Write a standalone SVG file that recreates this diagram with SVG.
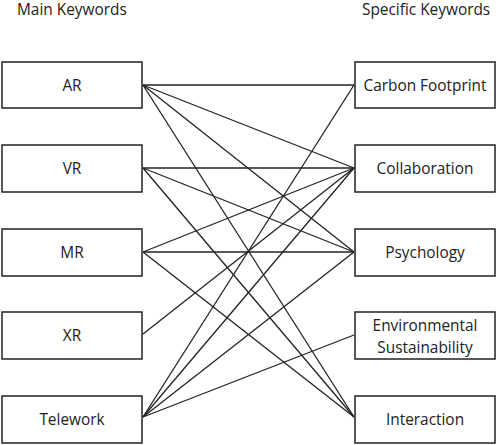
<svg xmlns="http://www.w3.org/2000/svg" width="498" height="445" viewBox="0 0 498 445">
<style>
.box{fill:#fff;stroke:#222;stroke-width:1.5}
.t{font-family:"Open Sans","Noto Sans","Liberation Sans",sans-serif;font-size:15.4px;fill:#222;text-anchor:middle}
.h{font-family:"Open Sans","Noto Sans","Liberation Sans",sans-serif;font-size:15.4px;fill:#222}
.c line{stroke:#222;stroke-width:1.3;fill:none}
</style>
<rect width="498" height="445" fill="#fff"/>
<text class="h" x="17" y="15">Main Keywords</text>
<text class="h" x="362" y="15">Specific Keywords</text>
<g id="connectors" class="c">
<line x1="143" y1="85" x2="354" y2="85"/>
<line x1="143" y1="85" x2="354" y2="168"/>
<line x1="143" y1="85" x2="354" y2="252"/>
<line x1="143" y1="85" x2="354" y2="417"/>
<line x1="143" y1="168" x2="354" y2="168"/>
<line x1="143" y1="168" x2="354" y2="252"/>
<line x1="143" y1="168" x2="354" y2="417"/>
<line x1="143" y1="252" x2="354" y2="168"/>
<line x1="143" y1="252" x2="354" y2="252"/>
<line x1="143" y1="252" x2="354" y2="417"/>
<line x1="143" y1="334" x2="354" y2="168"/>
<line x1="143" y1="417" x2="354" y2="85"/>
<line x1="143" y1="417" x2="354" y2="168"/>
<line x1="143" y1="417" x2="354" y2="252"/>
<line x1="143" y1="417" x2="354" y2="335"/>
</g>
<g id="ar"><rect class="box" x="2" y="62" width="140" height="46"/><text class="t" x="72" y="91">AR</text></g>
<g id="vr"><rect class="box" x="2" y="145" width="140" height="47"/><text class="t" x="72" y="174">VR</text></g>
<g id="mr"><rect class="box" x="2" y="229" width="140" height="47"/><text class="t" x="72" y="258">MR</text></g>
<g id="xr"><rect class="box" x="2" y="312" width="140" height="47"/><text class="t" x="72" y="341">XR</text></g>
<g id="telework"><rect class="box" x="2" y="396" width="140" height="47"/><text class="t" x="72" y="425">Telework</text></g>
<g id="carbon"><rect class="box" x="355" y="62" width="140" height="46"/><text class="t" x="425" y="91">Carbon Footprint</text></g>
<g id="collaboration"><rect class="box" x="355" y="145" width="140" height="47"/><text class="t" x="425" y="174">Collaboration</text></g>
<g id="psychology"><rect class="box" x="355" y="229" width="140" height="47"/><text class="t" x="425" y="258">Psychology</text></g>
<g id="environmental"><rect class="box" x="355" y="312" width="140" height="47"/><text class="t" x="425" y="331">Environmental</text><text class="t" x="425" y="353">Sustainability</text></g>
<g id="interaction"><rect class="box" x="355" y="396" width="140" height="47"/><text class="t" x="425" y="425">Interaction</text></g>
</svg>
